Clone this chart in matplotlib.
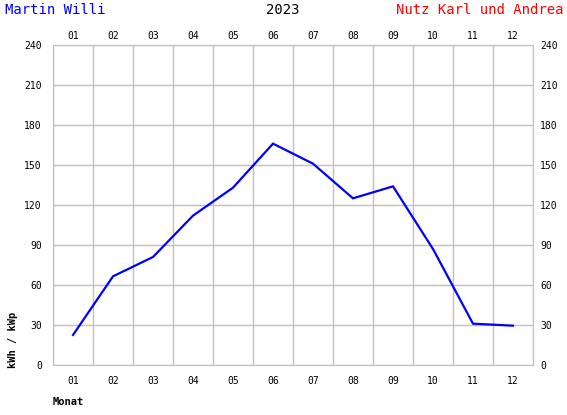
import matplotlib
matplotlib.use("Agg")
import matplotlib.pyplot as plt

months = ["01", "02", "03", "04", "05", "06", "07", "08", "09", "10", "11", "12"]
kwh_per_kwp = [22.5, 66.5, 81, 112, 133, 166, 151, 125, 134, 87, 31, 29.5]
yticks = [0, 30, 60, 90, 120, 150, 180, 210, 240]

plt.rcParams['font.family'] = ['DejaVu Sans Mono']

fig = plt.figure(figsize=(5.67, 4.15), dpi=100)
ax = fig.add_axes([53/567, 50/415, 480/567, 320/415])

x = list(range(len(months)))
ax.plot(x, kwh_per_kwp, color='#0000ff', lw=1.6, solid_joinstyle='miter')

ax.set_xlim(-0.5, len(months) - 0.5)
ax.set_ylim(0, 240)
ax.set_xticks(x)
ax.set_xticklabels(months)
ax.set_yticks(yticks)
ax.set_xticks([i - 0.5 for i in range(len(months) + 1)], minor=True)
ax.grid(False)
ax.grid(True, which='minor', axis='x', color='#c0c0c0', lw=1)
ax.grid(True, which='major', axis='y', color='#c0c0c0', lw=1)
ax.set_axisbelow(True)
for s in ax.spines.values():
    s.set_color('#c0c0c0')
ax.tick_params(which='both', length=0, labelsize=7, pad=8)

# top and right labels, closer to the plot
top = ax.secondary_xaxis('top')
top.set_xticks(x)
top.set_xticklabels(months)
top.tick_params(length=0, labelsize=7, pad=3)
top.spines['top'].set_visible(False)
right = ax.secondary_yaxis('right')
right.set_yticks(yticks)
right.tick_params(length=0, labelsize=7, pad=5)
right.spines['right'].set_visible(False)

fig.text(5/567, 1 - 10/415, "Martin Willi", color='#0000ff', fontsize=10, va='center', ha='left')
fig.text(283/567, 1 - 10/415, "2023", color='black', fontsize=10, va='center', ha='center')
fig.text(563/567, 1 - 10/415, "Nutz Karl und Andrea", color='#ff0000', fontsize=10, va='center', ha='right')
fig.text(53/567, 1 - 402/415, "Monat", fontsize=7.5, fontweight='bold', va='center', ha='left')
fig.text(13/567, 1 - 340/415, "kWh / kWp", fontsize=7.5, fontweight='bold', rotation=90, va='center', ha='center')

fig.savefig("out.png", dpi=100)
